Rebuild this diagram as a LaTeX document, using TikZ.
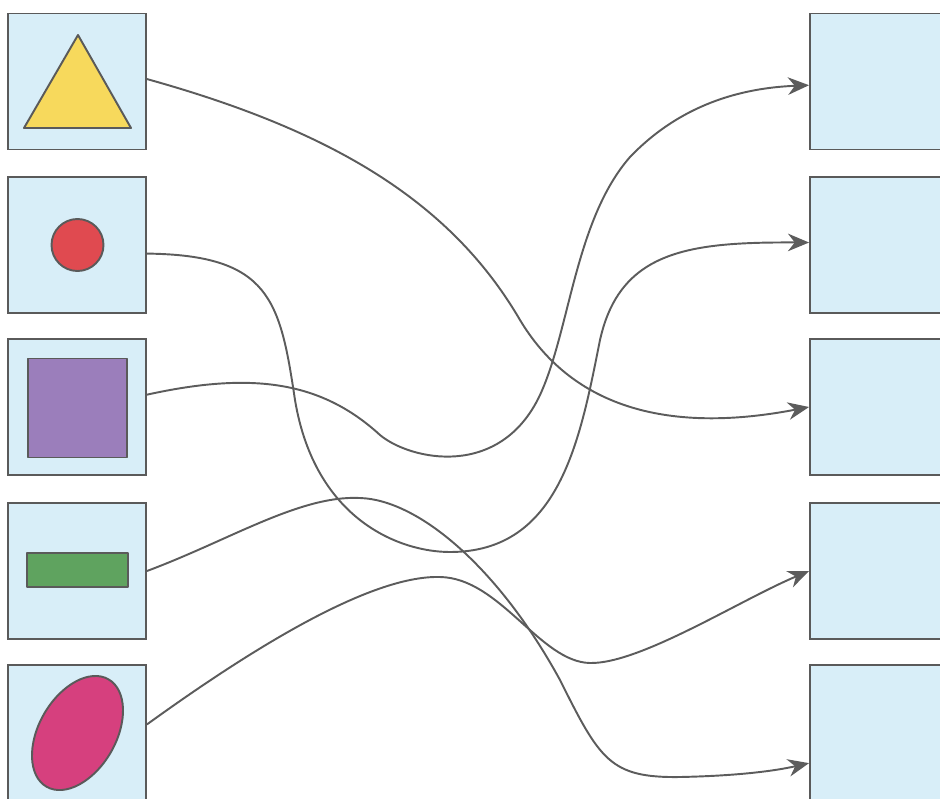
\documentclass[tikz,border=0pt]{standalone}
\usepackage{xcolor}
\usepackage{tikz}
\usetikzlibrary{arrows.meta, shapes.geometric}
\definecolor{cardbg}{HTML}{D8EEF8}
\definecolor{cardframe}{HTML}{5A5A5A}
\definecolor{wirecolor}{HTML}{5C5C5C}
\definecolor{triyellow}{HTML}{F7D95C}
\definecolor{dotred}{HTML}{E04A50}
\definecolor{squarepurple}{HTML}{9B7EBB}
\definecolor{bargreen}{HTML}{5FA35F}
\definecolor{ovalpink}{HTML}{D6407E}

\begin{document}
\begin{tikzpicture}[
  x=0.02cm, y=-0.02cm,
  card/.style={rectangle, minimum width=2.76cm, minimum height=2.72cm,
               draw=cardframe, fill=cardbg, line width=1.1pt, inner sep=0pt},
  target/.style={card, minimum width=2.8cm},
  figure/.style={draw=cardframe, line width=1.1pt, inner sep=0pt,
                 line join=round},
  wire/.style={-{Stealth[length=12pt, width=10pt]}, line width=1.1pt,
               wirecolor},
]
\clip (0,0) rectangle (940,798);

%% ── Left column: shape cards ────────────────────────────────────────────────
\node[card] (L1) at (77,81.5) {};
\node[card] (L2) at (77,245)  {};
\node[card] (L3) at (77,407)  {};
\node[card] (L4) at (77,571)  {};
\node[card] (L5) at (77,733)  {};

\draw[figure, fill=triyellow] (78,35) -- (131,128) -- (24,128) -- cycle;
\node[figure, circle, minimum size=1.04cm, fill=dotred]       (dot)    at (77.5,245) {};
\node[figure, rectangle, minimum size=1.98cm, fill=squarepurple] (square) at (77.5,408) {};
\node[figure, rectangle, minimum width=2.02cm, minimum height=0.68cm,
      fill=bargreen] (bar) at (77.5,570) {};
\node[figure, ellipse, minimum width=2.48cm, minimum height=1.54cm,
      rotate=60, fill=ovalpink] (oval) at (77.5,733) {};

%% ── Right column: empty cards ───────────────────────────────────────────────
\node[target] (R1) at (880,81.5) {};
\node[target] (R2) at (880,245)  {};
\node[target] (R3) at (880,407)  {};
\node[target] (R4) at (880,571)  {};
\node[target] (R5) at (880,733)  {};

%% ── Wires ───────────────────────────────────────────────────────────────────
\draw[wire] (L1.2) .. controls (330,130) and (450,200) .. (520,320)
                   .. controls (580,420) and (690,430) .. (R3.west);
\draw[wire] (L2.-7) .. controls (270,255) and (280,300) .. (295,400)
                    .. controls (315,520) and (400,552) .. (450,552)
                    .. controls (560,552) and (580,440) .. (600,340)
                    .. controls (620,250) and (690,242) .. (R2.178);
\draw[wire] (L3.10) .. controls (250,372) and (320,380) .. (380,435)
                    .. controls (410,460) and (500,480) .. (540,395)
                    .. controls (570,330) and (575,220) .. (630,157)
                    .. controls (680,105) and (740,88) .. (R1.183);
\draw[wire] (L4.east) .. controls (230,540) and (300,495) .. (360,498)
                      .. controls (420,500) and (500,570) .. (560,680)
                      .. controls (600,760) and (610,778) .. (680,777)
                      .. controls (730,776) and (770,772) .. (R5.203);
\draw[wire] (L5.7) .. controls (250,650) and (370,575) .. (440,577)
                   .. controls (500,578) and (540,662) .. (590,663)
                   .. controls (640,664) and (740,600) .. (R4.west);

\end{tikzpicture}
\end{document}
